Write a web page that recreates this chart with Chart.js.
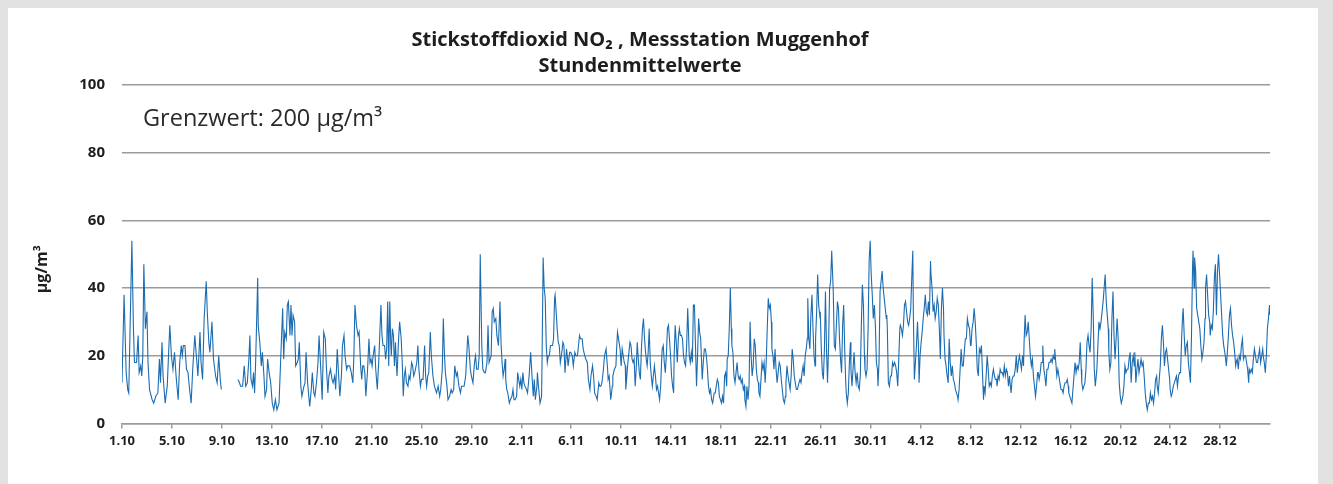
<!DOCTYPE html>
<html><head><meta charset="utf-8">
<script src="https://cdn.jsdelivr.net/npm/chart.js@4"></script>
<style>
html,body{margin:0;padding:0;background:#e2e2e2;width:1333px;height:484px;overflow:hidden}
#panel{position:absolute;left:8px;top:8px;width:1310px;height:476px;background:#fff}
#wrap{position:absolute;left:0;top:0;width:1333px;height:484px}
</style></head><body>
<div id="panel"></div>
<div id="wrap"><canvas id="c" width="1333" height="484"></canvas></div>
<script>
const chartTitle = ['Stickstoffdioxid NO\u2082 , Messstation Muggenhof', 'Stundenmittelwerte'];
const yAxisTitle = 'µg/m³';
const limitNote = 'Grenzwert: 200 µg/m³';
const xTickLabels = ['1.10','5.10','9.10','13.10','17.10','21.10','25.10','29.10','2.11','6.11','10.11','14.11','18.11','22.11','26.11','30.11','4.12','8.12','12.12','16.12','20.12','24.12','28.12'];
const hoursPerTick = 96;
const totalHours = 2208;
const yTicks = [0, 20, 40, 60, 80, 100];

// [hour since 1.10 00:00, NO2 hourly mean in µg/m³]
const oktober = [[0,12],[4,38],[8,15],[11,10],[13,9],[19,54],[22,28],[24,18],[28,18],[31,26],[33,15],[36,17],[38,14],[40,20],[42,47],[45,28],[48,33],[50,18],[53,10],[58,7],[61,6],[65,8],[69,9],[72,19],[74,12],[77,24],[79,14],[83,6],[87,11],[90,22],[92,29],[95,20],[98,16],[101,21],[104,14],[108,7],[111,18],[114,23],[116,20],[118,23],[121,23],[124,16],[127,15],[130,10],[133,6],[136,16],[140,26],[143,20],[146,14],[150,27],[152,18],[155,13],[158,31],[162,42],[164,33],[167,24],[169,21],[173,30],[176,19],[180,14],[183,12],[186,20],[189,13],[191,10],[205,null],[223,13],[226,12],[228,11],[232,11],[235,17],[238,11],[241,12],
[244,19],[246,26],[248,13],[251,11],[253,15],[255,9],[257,18],[261,43],[262,29],[265,24],[268,17],[270,21],[273,14],[275,8],[278,10],[280,19],[283,15],[286,12],[289,6],[292,4],[295,7],[298,4],[302,6],[305,18],[309,34],[311,19],[313,27],[316,25],[318,35],[320,36],[323,26],[325,35],[327,26],[329,32],[332,30],[334,17],[337,18],[339,19],[341,24],[344,11],[346,8],[350,11],[352,12],[354,21],[357,12],[361,5],[364,10],[366,15],[369,9],[371,8],[374,12],[377,18],[379,26],[382,17],[385,7],[388,27],[391,25],[393,17],[396,9],[398,14],[401,16],[404,13],[406,12],[409,14],[411,10],[414,22],[416,16],[419,8],[422,14],[424,23],[427,26],[429,20],[432,16],[434,17],[438,17],[441,15],[444,12],[446,20],[448,35],[451,29],[454,26],[456,27],[459,17],[461,13],[463,17],[465,17],[467,15],[469,8],[472,15],
[475,25],[477,18],[479,19],[481,17],[483,20],[486,23],[488,16],[491,10],[494,19],[498,35],[500,26],[502,23],[505,23],[507,19],[509,22],[511,36],[513,17],[515,36],[517,23],[518,20],[520,28],[522,26],[524,17],[526,24],[527,20],[529,14],[532,25],[534,30],[537,25],[539,18],[541,8],[543,14],[545,16],[547,12],[550,11],[552,14],[554,13],[557,18],[559,17],[561,14],[563,15],[567,18],[569,23],[571,16],[574,11],[576,13],[579,13],[582,23],[584,14],[586,11],[588,14],[590,15],[593,27],[595,20],[598,14],[601,11],[603,10],[605,9],[608,11],[611,8],[613,10],[616,16],[618,31],[620,21],[622,15],[625,11],[627,7],[630,8],[633,10],[635,9],[638,10],[640,17],[643,14],[645,15],[648,11],[651,9],[653,11],[656,11],[658,11],[661,14],[663,20],[665,26],[667,23],[670,16],[672,14],[675,12],[678,18],[680,20],[682,16],[685,16],[687,20],[689,50],[692,23],[694,16],[697,15],[699,15],[702,18],[704,29],[706,18],[708,19],[710,20],[712,33],[714,34],[716,30],[719,31],[721,26],[724,23],
[727,36],[729,24],[731,18],[733,14],[735,16],[737,19],[738,13],[740,10],[742,9]];

const november = [[745,6],[747,7],[750,8],[752,10],[754,7],[756,7],[759,8],[761,15],[763,13],[765,11],[767,13],[769,10],[771,15],[773,12],[775,11],[778,10],[780,9],[783,14],[786,21],[789,13],[791,8],[793,13],[795,7],[798,11],[799,15],[801,11],[804,6],[807,8],[808,20],[810,49],[812,40],[814,37],[816,23],[818,18],[820,20],[822,20],[824,23],[826,23],[828,23],[830,25],[832,37],[833,38],[835,33],[837,28],[839,24],[841,23],[843,18],[846,21],[848,24],[850,23],[852,15],[855,22],[857,19],[858,17],[861,21],[863,21],[866,20],[868,17],[871,21],[873,20],[876,20],[878,23],[880,26],[882,25],[885,25],[887,22],[890,20],[892,19],[895,18],[897,13],[900,10],[902,14],[905,17],[907,14],[909,9],[912,8],[914,7],[917,12],[919,11],[921,11],[923,12],[926,16],[928,20],[931,22],[934,16],[935,13],[937,14],[940,7],[943,11],[944,14],[947,16],[950,17],[951,21],[953,27],[956,24],[958,22],[960,17],[962,22],[964,20],
[966,18],[968,17],[969,10],[971,14],[973,18],[975,21],[977,24],[979,23],[981,19],[983,18],[985,19],[987,11],[989,16],[991,24],[993,19],[995,15],[997,13],[999,22],[1001,28],[1003,31],[1005,25],[1007,21],[1009,18],[1010,17],[1012,21],[1014,28],[1016,18],[1018,14],[1020,11],[1022,14],[1024,17],[1026,14],[1028,10],[1030,11],[1032,9],[1034,7],[1036,11],[1038,19],[1039,22],[1041,23],[1043,18],[1045,15],[1047,20],[1049,28],[1051,29],[1053,25],[1055,20],[1057,14],[1059,11],[1061,9],[1062,20],[1064,29],[1066,24],[1068,18],[1070,25],[1072,28],[1074,26],[1076,26],[1078,25],[1080,20],[1082,18],[1084,17],[1086,23],[1088,34],[1089,30],[1091,20],[1093,18],[1095,21],[1097,18],[1099,35],[1101,35],[1103,23],[1105,11],[1107,20],[1109,31],[1111,27],[1113,25],[1114,21],[1116,13],[1118,18],[1120,22],[1122,22],[1124,20],[1126,16],[1128,11],[1130,9],[1132,10],[1134,7],[1136,6],[1138,8],[1139,9],[1141,9],[1143,11],[1145,13],[1147,12],[1149,8],[1151,7],[1153,6],[1155,8],[1157,6],[1159,14],[1161,15],[1163,11],[1164,19],[1166,20],[1168,28],[1170,40],[1172,28],[1173,23],[1175,21],[1177,14],[1179,12],[1181,15],[1183,18],[1185,14],[1187,13],[1189,14],[1191,12],[1193,13],[1195,10],[1197,11],[1198,7],[1200,5],[1202,11],[1204,7],[1206,11],[1208,30],[1210,20],[1212,14],[1214,17],
[1216,25],[1218,23],[1220,16],[1222,13],[1224,12],[1225,9],[1227,8],[1229,13],[1231,18],[1233,16],[1235,18],[1237,12],[1239,18],[1241,28],[1243,37],[1245,34],[1247,35],[1249,30],[1250,22],[1252,20],[1254,16],[1256,22],[1258,16],[1260,12],[1262,15],[1264,18],[1266,17],[1268,13],[1270,10],[1272,7],[1274,6],[1276,8],[1277,12],[1279,17],[1281,14],[1283,12],[1285,10],[1287,14],[1289,22],[1291,19],[1293,14],[1295,12],[1297,10],[1299,10],[1300,10],[1302,12],[1304,13],[1306,12],[1308,15],[1310,17],[1312,14],[1314,20],[1316,22],[1318,25],[1319,37],[1321,25],[1323,22],[1325,32],[1327,38],[1329,28],[1331,20],[1333,17],[1334,25],[1336,33],[1338,44],[1340,35],[1342,32],[1343,33],[1345,22],[1347,15],[1349,13],[1351,22],[1353,39],[1355,22],[1357,12],[1359,23],[1361,40],[1363,42],[1365,51],[1367,43],[1368,39],[1370,23],[1372,22],[1374,29],[1376,36],[1378,34],[1380,25],[1382,19],[1384,15],[1386,29],[1388,35],[1390,22],[1392,12],[1393,9],[1395,6],[1397,9],[1399,18],[1401,24],[1402,16],[1404,11],[1406,16],[1408,21],[1410,15],[1412,12],[1414,15],[1416,11],[1418,10],[1420,14],[1422,29],[1424,41],[1426,35],[1428,20],[1429,16],[1431,14],[1433,16],[1435,28],[1437,48],[1439,54],[1441,44],[1443,38],[1445,31],[1447,35],[1449,29],[1451,18],[1453,16],[1454,11],[1456,18],[1458,39],[1460,42],[1462,45]];

const dezember = [[1464,40],[1466,37],[1468,34],[1470,31],[1471,32],[1472,28],[1474,12],[1476,11],[1478,14],[1480,14],[1482,18],[1484,17],[1486,18],[1488,17],[1490,15],[1492,11],[1494,19],[1496,28],[1497,29],[1499,28],[1501,26],[1503,29],[1505,35],[1507,36],[1509,33],[1511,30],[1513,29],[1515,31],[1517,34],[1519,43],[1521,51],[1522,33],[1524,13],[1526,18],[1528,23],[1530,30],[1532,22],[1533,12],[1535,20],[1537,24],[1539,27],[1541,31],[1543,34],[1545,38],[1547,33],[1549,32],[1551,36],[1553,32],[1555,48],[1556,44],[1558,40],[1560,33],[1562,35],[1564,31],[1566,33],[1568,37],[1570,35],[1572,28],[1574,19],[1576,34],[1578,40],[1580,34],[1581,26],[1583,19],[1585,17],[1587,14],[1589,12],[1591,25],[1593,18],[1595,14],[1597,17],[1599,13],[1601,12],[1603,10],[1605,9],[1607,8],[1608,7],[1610,10],[1612,16],[1614,22],[1616,17],[1618,17],[1620,21],[1622,25],[1624,25],[1626,31],[1628,29],[1630,28],[1632,23],[1633,23],[1635,28],[1637,30],[1639,34],[1641,30],[1643,24],[1645,16],[1647,14],[1649,22],[1651,21],[1653,23],[1655,15],[1657,7],[1658,11],[1660,9],[1662,14],[1664,20],[1666,16],[1668,11],[1670,12],[1672,11],[1674,14],[1676,16],[1678,14],[1680,13],[1682,13],[1683,11],[1685,14],[1687,13],[1689,16],[1691,15],[1693,15],[1695,14],[1697,17],[1699,14],[1701,16],[1703,15],[1705,11],[1707,14],[1708,12],[1710,9],[1712,13],[1714,14],
[1716,14],[1718,16],[1720,20],[1722,15],[1724,18],[1726,20],[1728,18],[1730,16],[1732,20],[1734,17],[1735,24],[1737,32],[1739,26],[1741,27],[1743,30],[1745,25],[1747,20],[1749,17],[1751,19],[1753,14],[1755,11],[1757,8],[1759,11],[1761,15],[1762,15],[1764,13],[1766,15],[1768,18],[1770,18],[1771,23],[1773,16],[1775,14],[1777,11],[1779,16],[1781,16],[1783,18],[1785,18],[1787,19],[1789,18],[1791,20],[1793,19],[1794,22],[1796,18],[1798,14],[1800,16],[1802,14],[1804,12],[1806,10],[1808,10],[1810,9],[1812,11],[1814,12],[1816,12],[1818,13],[1820,11],[1821,9],[1823,8],[1825,7],[1827,6],[1829,10],[1831,14],[1833,18],[1835,15],[1837,17],[1839,16],[1841,18],[1843,24],[1845,16],[1846,12],[1848,10],[1850,11],[1852,12],[1854,16],[1856,24],[1858,26],[1860,23],[1862,21],[1864,28],[1866,43],[1868,32],[1870,16],[1872,11],[1873,11],[1875,16],[1877,23],[1879,30],[1881,28],[1883,30],[1885,33],[1887,36],[1889,40],[1891,44],[1893,36],[1895,32],[1897,28],[1898,21],[1900,16],[1902,18],[1904,31],[1906,39],[1908,26],[1910,19],[1912,25],[1914,31],[1916,25],[1918,12],[1920,8],[1922,6],[1923,6],[1925,8],[1927,11],[1929,17],[1931,15],[1933,16],[1935,16],[1937,19],[1939,21],[1941,12],[1943,18],[1945,20],[1947,17],[1948,21],[1950,12],[1952,16],[1954,19],[1956,15],[1958,17],[1960,19],[1962,17],[1964,18],
[1966,14],[1968,9],[1970,6],[1972,4],[1974,6],[1976,6],[1978,9],[1980,7],[1982,8],[1984,6],[1986,9],[1988,13],[1990,14],[1991,11],[1993,9],[1995,13],[1997,17],[1999,25],[2001,29],[2003,24],[2005,17],[2007,21],[2009,22],[2011,19],[2013,16],[2015,13],[2016,10],[2018,8],[2020,9],[2022,11],[2024,12],[2026,13],[2028,14],[2030,11],[2032,14],[2034,15],[2036,15],[2038,25],[2040,32],[2041,34],[2043,26],[2045,20],[2047,23],[2049,24],[2051,18],[2053,15],[2055,12],[2057,26],[2059,46],[2060,51],[2062,40],[2063,49],[2065,45],[2067,34],[2069,32],[2071,30],[2073,28],[2075,23],[2077,19],[2079,21],[2081,24],[2083,31],[2084,40],[2086,44],[2088,38],[2090,32],[2092,30],[2093,26],[2095,29],[2097,28],[2099,33],[2101,43],[2103,47],[2105,32],[2107,45],[2109,50],[2111,44],[2113,38],[2115,32],[2117,26],[2119,23],[2120,22],[2122,20],[2124,17],[2126,21],[2128,26],[2130,32],[2132,34],[2134,29],[2136,26],[2138,24],[2140,21],[2142,17],[2143,18],[2145,19],[2147,16],[2149,20],[2151,19],[2153,23],[2155,25],[2157,19],[2159,20],[2161,20],[2163,18],[2165,16],[2167,12],[2168,16],[2170,15],[2172,16],[2174,15],[2176,19],[2178,22],[2180,20],[2182,18],[2184,18],[2186,20],[2188,22],[2190,18],[2192,20],[2194,22],[2195,20],[2197,18],[2199,15],[2201,20],[2203,28],[2205,31],[2207,35],[2208,32]];

const FONT = '"Open Sans", "Noto Sans", sans-serif';
const TEXT = '#1e1e1e';
const GRID = '#9b9b9b';

const points = [...oktober, ...november, ...dezember].map(([h, v]) => ({ x: h, y: v }));

const textPlugin = {
  id: 'extraText',
  afterDraw(chart) {
    const { ctx, chartArea, scales } = chart;
    ctx.save();
    ctx.font = '23.5px ' + FONT;
    ctx.fillStyle = '#2a2a2a';
    ctx.textBaseline = 'middle';
    ctx.textAlign = 'left';
    ctx.fillText(limitNote, chartArea.left + 21, scales.y.getPixelForValue(90));
    ctx.restore();

    ctx.save();
    ctx.font = 'bold 16px ' + FONT;
    ctx.fillStyle = TEXT;
    ctx.textBaseline = 'middle';
    ctx.textAlign = 'center';
    ctx.translate(chartArea.left - 80, (chartArea.top + chartArea.bottom) / 2 + 15);
    ctx.rotate(-Math.PI / 2);
    ctx.fillText(yAxisTitle, 0, 0);
    ctx.restore();
  }
};

new Chart(document.getElementById('c'), {
  type: 'line',
  data: {
    datasets: [{
      data: points,
      borderColor: '#1b6cb1',
      borderWidth: 1.1,
      pointRadius: 0,
      tension: 0,
      spanGaps: false,
      fill: false
    }]
  },
  options: {
    responsive: false,
    animation: false,
    events: [],
    layout: { padding: { left: 10, right: 63, top: 0, bottom: 30 } },
    plugins: {
      legend: { display: false },
      tooltip: { enabled: false },
      title: {
        display: true,
        text: chartTitle,
        color: TEXT,
        font: { family: FONT, size: 20, weight: 'bold', lineHeight: 1.3 },
        padding: { top: 27, bottom: 6 }
      }
    },
    scales: {
      x: {
        type: 'linear',
        min: 0,
        max: totalHours,
        afterBuildTicks: s => { s.ticks = xTickLabels.map((_, i) => ({ value: i * hoursPerTick })); },
        ticks: {
          autoSkip: false, maxRotation: 0, minRotation: 0,
          callback: (v, i) => xTickLabels[i],
          color: TEXT,
          font: { family: FONT, size: 13, weight: 'bold' },
          padding: 5
        },
        grid: { display: true, drawOnChartArea: false, drawTicks: true, tickLength: 5, color: GRID, lineWidth: 1.5 },
        border: { display: true, color: GRID, width: 1.5 }
      },
      y: {
        min: 0,
        max: 100,
        afterBuildTicks: s => { s.ticks = yTicks.map(v => ({ value: v })); },
        afterFit: s => { s.width = 112; },
        ticks: { color: TEXT, font: { family: FONT, size: 15, weight: 'bold' }, padding: 17 },
        grid: { color: GRID, lineWidth: 1.5, drawTicks: false },
        border: { display: false },
        title: { display: false, text: yAxisTitle }
      }
    }
  },
  plugins: [textPlugin]
});
</script>
</body></html>
